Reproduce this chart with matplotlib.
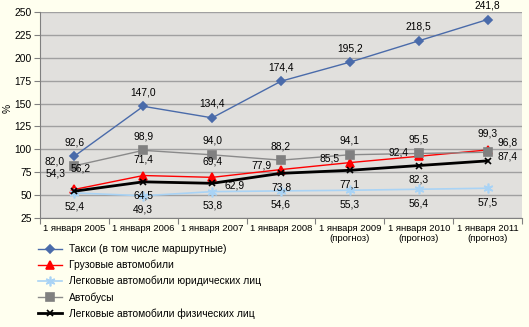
import matplotlib
matplotlib.use("Agg")
import matplotlib.pyplot as plt
import numpy as np

plt.rcParams["font.family"] = ["Liberation Sans", "DejaVu Sans"]

categories = ["1 января 2005", "1 января 2006", "1 января 2007", "1 января 2008",
              "1 января 2009\n(прогноз)", "1 января 2010\n(прогноз)", "1 января 2011\n(прогноз)"]

taxi = [92.6, 147.0, 134.4, 174.4, 195.2, 218.5, 241.8]
trucks = [56.2, 71.4, 69.4, 77.9, 85.5, 92.4, 99.3]
cars_legal = [52.4, 49.3, 53.8, 54.6, 55.3, 56.4, 57.5]
buses = [82.0, 98.9, 94.0, 88.2, 94.1, 95.5, 96.8]
cars_private = [54.3, 64.5, 62.9, 73.8, 77.1, 82.3, 87.4]

series_names = ["Такси (в том числе маршрутные)", "Грузовые автомобили",
                "Легковые автомобили юридических лиц", "Автобусы",
                "Легковые автомобили физических лиц"]

# label offsets in pixels for each point
offs = {
    "taxi": [(0, 14)] * 7,
    "trucks": [(6, 21), (0, 16), (0, 16), (-20, 4), (-20, 4), (-20, 4), (0, 16)],
    "cars_legal": [(0, -14)] * 7,
    "buses": [(-20, 4), (0, 14), (0, 14), (0, 14), (0, 14), (0, 14), (20, 10)],
    "cars_private": [(-19, 18), (0, -14), (22, -2), (0, -14), (0, -14), (0, -14), (20, 4)],
}

fig = plt.figure(figsize=(5.29, 3.27), dpi=100, facecolor="#FFFFEF")
ax = fig.add_axes([40 / 529, 1 - 218 / 327, 482 / 529, 206 / 327])
ax.set_facecolor("#E1E0DD")

x = np.arange(len(categories))
style = [
    ("taxi", taxi, "#4A6BAA", "D", 4, 1.0, "#4A6BAA"),
    ("trucks", trucks, "#FF0000", "^", 6, 1.0, "#FF0000"),
    ("cars_legal", cars_legal, "#A9D3F5", (6, 2, 0), 7, 1.2, "#A9D3F5"),
    ("buses", buses, "#8A8A8A", "s", 6, 1.0, "#808080"),
    ("cars_private", cars_private, "#000000", "x", 5, 2.0, "#000000"),
]

for (key, vals, col, mk, ms, lw, mcol), name in zip(style, series_names):
    ax.plot(x, vals, color=col, marker=mk, markersize=ms, linewidth=lw,
            markerfacecolor=mcol, markeredgecolor=mcol, markeredgewidth=1.2, label=name)
    for xi, v, (dx, dy) in zip(x, vals, offs[key]):
        ax.annotate(f"{v:.1f}".replace(".", ","), (xi, v), xytext=(dx, dy),
                    textcoords="offset pixels", ha="center", va="center", fontsize=7.4)

ax.set_xlim(-0.5, 6.5)
ax.set_ylim(25, 250)
ax.set_yticks(np.arange(25, 251, 25))
ax.yaxis.grid(True, color="#A0A0A0", linewidth=1)
ax.set_axisbelow(True)
ax.set_xticks(np.arange(-0.5, 7, 1))
ax.set_xticklabels([])
ax.set_xticks(x, minor=True)
ax.set_xticklabels(categories, minor=True, fontsize=6.8)
ax.tick_params(axis="x", which="minor", length=0, pad=4)
ax.tick_params(axis="x", which="major", length=4, direction="out", color="#808080")
ax.tick_params(axis="y", labelsize=7.4, length=4, direction="out", color="#808080", pad=2)
for s in ["top", "right"]:
    ax.spines[s].set_visible(False)
ax.spines["left"].set_color("#808080")
ax.spines["bottom"].set_color("#808080")
ax.set_ylabel("%", fontsize=7.4)
ax.yaxis.set_label_coords(-0.056, 0.53)

fig.legend(loc="upper left", bbox_to_anchor=(33 / 529, 1 - 239 / 327), frameon=False,
           fontsize=7.4, handlelength=2.3, labelspacing=0.55, borderpad=0, handletextpad=0.7)

plt.savefig("out.png", dpi=100, facecolor=fig.get_facecolor())
